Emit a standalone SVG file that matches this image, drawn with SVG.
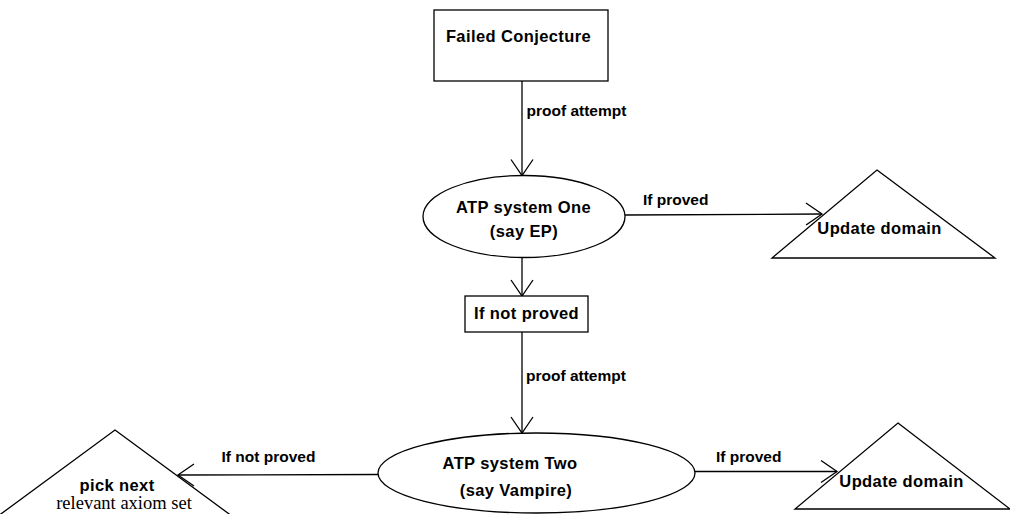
<svg xmlns="http://www.w3.org/2000/svg" width="1010" height="514" viewBox="0 0 1010 514">
  <style>
    .shape { fill: #ffffff; stroke: #000000; stroke-width: 1.3; }
    .edge { fill: none; stroke: #000000; stroke-width: 1.3; }
    .node-text { font-family: "Liberation Sans", Arial, sans-serif; font-weight: bold; font-size: 16.5px; letter-spacing: 0.4px; fill: #000000; text-anchor: middle; }
    .edge-text { font-family: "Liberation Sans", Arial, sans-serif; font-weight: bold; font-size: 15.5px; fill: #000000; }
    .serif-text { font-family: "Liberation Serif", "Times New Roman", serif; font-size: 18.5px; fill: #000000; text-anchor: middle; }
  </style>
  <defs>
    <marker id="open-arrow" viewBox="-18 -13 20 26" refX="0" refY="0" markerWidth="20" markerHeight="26" markerUnits="userSpaceOnUse" orient="auto" overflow="visible">
      <path d="M -16 -11 L 0 0 L -16 11" fill="none" stroke="#000000" stroke-width="1.3"/>
    </marker>
  </defs>
  <rect width="1010" height="514" fill="#ffffff"/>

  <!-- connectors -->
  <g id="connectors">
    <line class="edge" x1="522" y1="81" x2="522" y2="175.5" marker-end="url(#open-arrow)"/>
    <line class="edge" x1="625" y1="215" x2="822" y2="214" marker-end="url(#open-arrow)"/>
    <line class="edge" x1="522" y1="257" x2="522" y2="296" marker-end="url(#open-arrow)"/>
    <line class="edge" x1="522" y1="332" x2="522" y2="433" marker-end="url(#open-arrow)"/>
    <line class="edge" x1="378" y1="474.5" x2="178" y2="475" marker-end="url(#open-arrow)"/>
    <line class="edge" x1="695" y1="471.5" x2="837" y2="471.5" marker-end="url(#open-arrow)"/>
    <text class="edge-text" x="526.5" y="116">proof attempt</text>
    <text class="edge-text" x="643" y="205">If proved</text>
    <text class="edge-text" x="526" y="381">proof attempt</text>
    <text class="edge-text" x="221.5" y="462">If not proved</text>
    <text class="edge-text" x="716" y="462">If proved</text>
  </g>

  <!-- nodes -->
  <g id="failed-conjecture">
    <rect class="shape" x="434" y="10" width="174" height="71"/>
    <text class="node-text" x="518.5" y="42">Failed Conjecture</text>
  </g>

  <g id="atp-one">
    <ellipse class="shape" cx="524" cy="216.5" rx="101" ry="41"/>
    <text class="node-text" x="523.5" y="213">ATP system One</text>
    <text class="node-text" x="524" y="237">(say EP)</text>
  </g>

  <g id="update-domain-one">
    <polygon class="shape" points="877,170 995,258 772,258"/>
    <text class="node-text" x="879.5" y="234">Update domain</text>
  </g>

  <g id="if-not-proved">
    <rect class="shape" x="465" y="296" width="123" height="36"/>
    <text class="node-text" x="526.5" y="319">If not proved</text>
  </g>

  <g id="atp-two">
    <ellipse class="shape" cx="536.5" cy="473" rx="158.5" ry="40"/>
    <text class="node-text" x="510" y="469">ATP system Two</text>
    <text class="node-text" x="516" y="496">(say Vampire)</text>
  </g>

  <g id="pick-next">
    <polygon class="shape" points="115,430 240,522 -10,522"/>
    <text class="node-text" x="117" y="490.5">pick next</text>
    <text class="serif-text" x="124" y="508.5">relevant axiom set</text>
  </g>

  <g id="update-domain-two">
    <polygon class="shape" points="898,423 1010,509 795,509"/>
    <text class="node-text" x="901.5" y="487">Update domain</text>
  </g>
</svg>
